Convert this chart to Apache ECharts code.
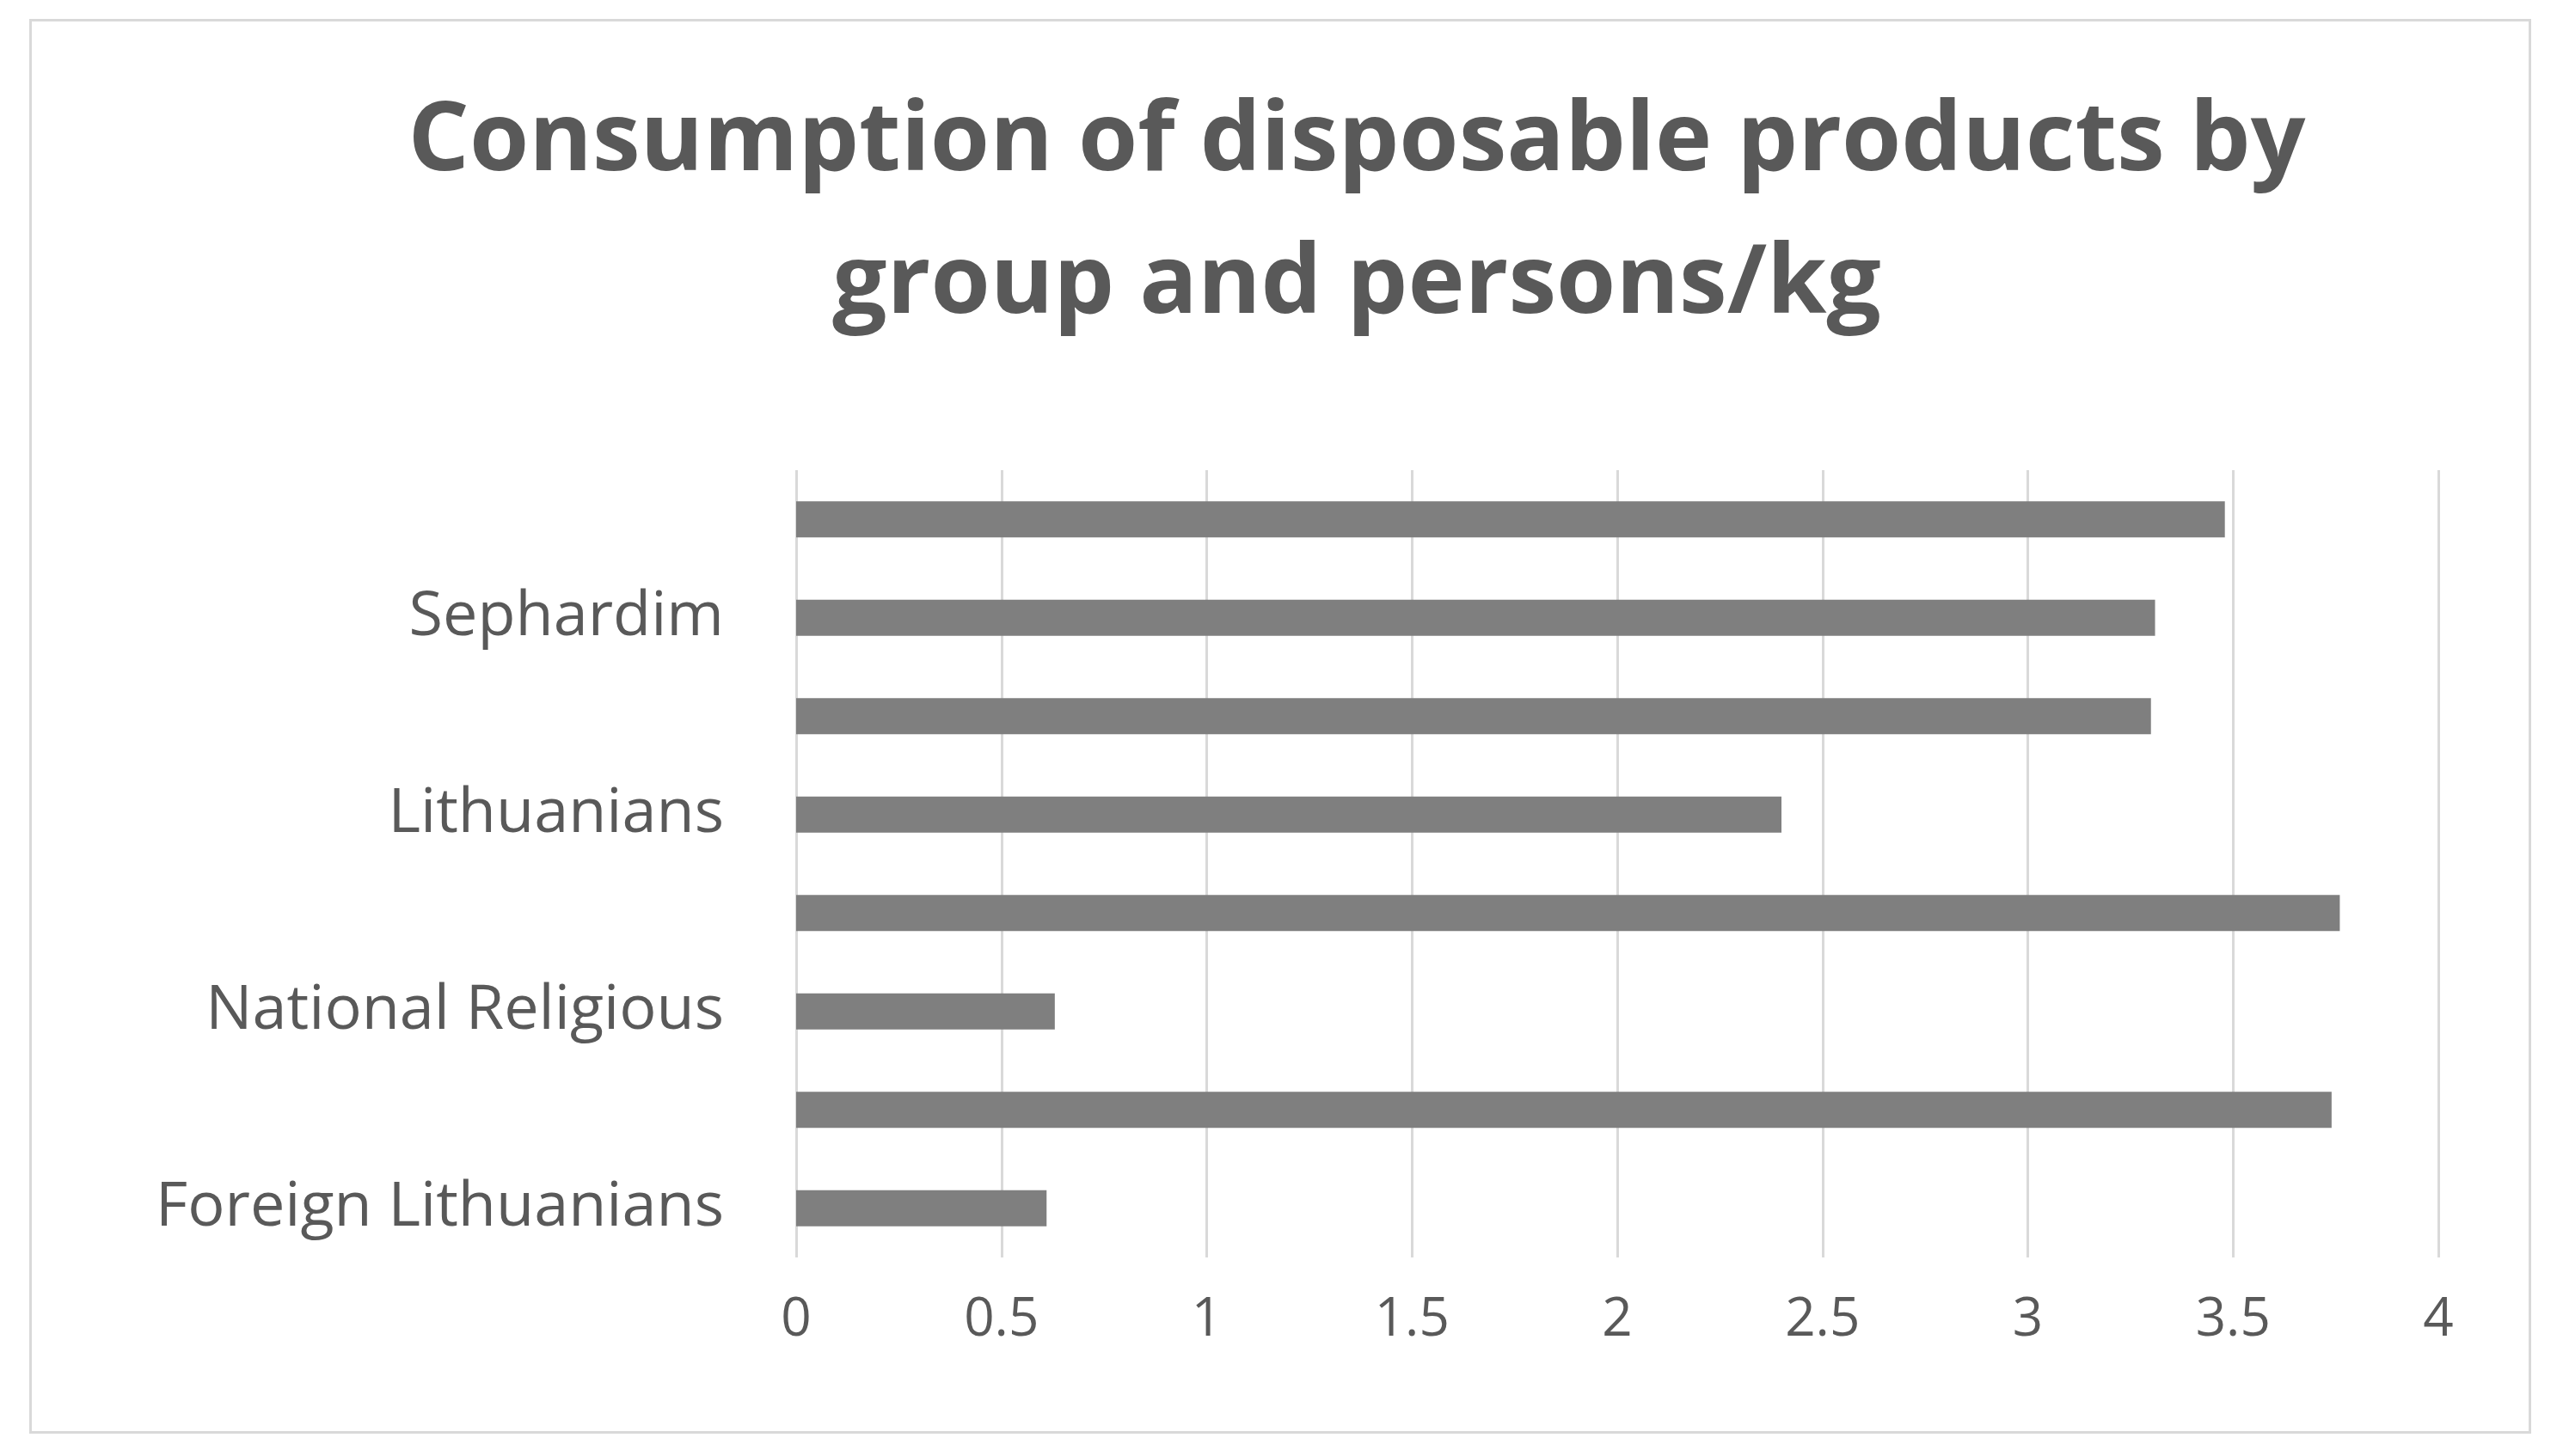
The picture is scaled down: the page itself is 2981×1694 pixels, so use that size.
<!DOCTYPE html>
<html>
<head>
<meta charset="utf-8">
<script src="https://cdn.jsdelivr.net/npm/echarts@6/dist/echarts.min.js"></script>
<style>
html,body{margin:0;padding:0;background:#fff;}
#wrap{position:absolute;left:34px;top:22px;width:2910px;height:1646px;border:3px solid #d9d9d9;box-sizing:border-box;}
#chart{width:2981px;height:1694px;position:absolute;left:0;top:0;}
</style>
</head>
<body>
<div id="wrap"></div>
<div id="chart"></div>
<script>
// bottom to top, only every other row carries a label
var categories = ['Foreign Lithuanians', '', 'National Religious', ' ', 'Lithuanians', '  ', 'Sephardim', '   '];
var values = [0.61, 3.74, 0.63, 3.76, 2.40, 3.30, 3.31, 3.48];
var xTicks = [0, 0.5, 1, 1.5, 2, 2.5, 3, 3.5, 4];

var myChart = echarts.init(document.getElementById('chart'));
myChart.setOption({
    backgroundColor: 'transparent',
    animation: false,
    title: {
        text: 'Consumption of disposable products by\ngroup and persons/kg',
        left: 1573,
        textAlign: 'center',
        top: 78,
        textStyle: {
            fontFamily: 'Open Sans',
            fontWeight: 'bold',
            fontSize: 112,
            lineHeight: 166,
            color: '#595959'
        }
    },
    grid: {left: 926, right: 145, top: 547, bottom: 231},
    xAxis: {
        type: 'value',
        min: xTicks[0],
        max: xTicks[xTicks.length - 1],
        interval: 0.5,
        axisLine: {show: false},
        axisTick: {show: false},
        splitLine: {lineStyle: {color: '#d9d9d9', width: 3}},
        axisLabel: {
            fontFamily: 'Open Sans',
            fontSize: 62,
            color: '#595959',
            margin: 42
        }
    },
    yAxis: {
        type: 'category',
        data: categories,
        axisLine: {show: false},
        axisTick: {show: false},
        axisLabel: {
            interval: 0,
            fontFamily: 'Open Sans',
            fontSize: 72,
            color: '#595959',
            margin: 84
        }
    },
    series: [{
        type: 'bar',
        data: values,
        barWidth: 42,
        itemStyle: {color: '#7f7f7f'}
    }]
});
</script>
</body>
</html>
